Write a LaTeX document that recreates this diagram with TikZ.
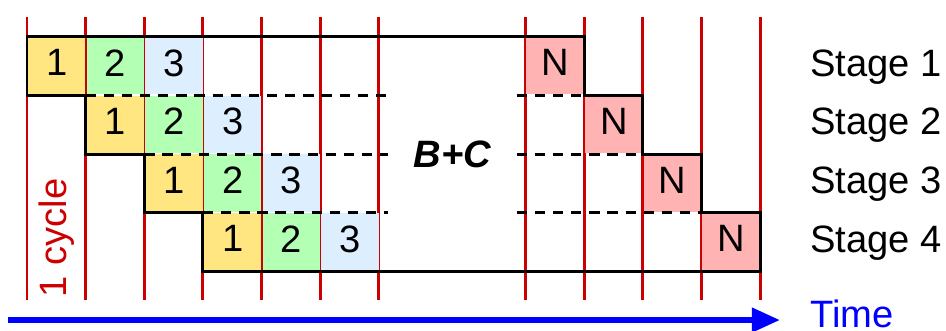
\documentclass[tikz,border=0pt]{standalone}
\usepackage{fontspec}
\setmainfont{Liberation Sans}
\usetikzlibrary{arrows.meta}
\definecolor{cycred}{RGB}{204,0,0}
\definecolor{opone}{RGB}{255,230,128}
\definecolor{optwo}{RGB}{179,255,179}
\definecolor{opthree}{RGB}{221,238,255}
\definecolor{oplast}{RGB}{255,179,179}
\definecolor{timeblue}{RGB}{0,0,255}

\begin{document}
\begin{tikzpicture}[
  every node/.style={font=\fontsize{18.5}{22}\selectfont},
  cell/.style={anchor=south west,minimum width=0.98cm,minimum height=0.98cm,inner sep=0pt,text depth=0.1cm},
  cycline/.style={draw=cycred,line width=1.4pt},
  stagebox/.style={draw=black,line width=1.4pt},
  sep/.style={draw=black,line width=1.4pt,dash pattern=on 5pt off 3.8pt},
  timeline/.style={-{Triangle[length=0.48cm,width=0.4cm]},draw=timeblue,line width=2.9pt}
]
\useasboundingbox (-0.46,-1.016) rectangle (15.67,4.627);
% clock ticks
\foreach \x in {0,1,2,3,4,5,6,8.5,9.5,10.5,11.5,12.5}
  \draw[cycline] (\x,-0.49) -- (\x,4.33);
% operations in each stage
\foreach \r in {1,...,4} {
  \pgfmathsetmacro{\y}{4-\r}
  \pgfmathsetmacro{\xa}{\r-1}
  \node[cell,fill=opone] (c\r a) at (\xa+0.01,\y+0.01) {1};
  \node[cell,fill=optwo] (c\r b) at (\xa+1.01,\y+0.01) {2};
  \node[cell,fill=opthree] (c\r c) at (\xa+2.01,\y+0.01) {3};
  \node[cell,fill=oplast] (n\r) at (7.51+\r,\y+0.01) {N};
}
% stage boundaries
\foreach \r/\a/\b in {3/1/9.5,2/2/10.5,1/3/11.5} {
  \draw[sep] (\a,\r) -- (6.15,\r);
  \draw[sep] (8.35,\r) -- (\b,\r);
}
\draw[stagebox] (0,4) -- (0,3) -- (1,3) -- (1,2) -- (2,2) -- (2,1) -- (3,1) -- (3,0)
  -- (12.5,0) -- (12.5,1) -- (11.5,1) -- (11.5,2) -- (10.5,2) -- (10.5,3) -- (9.5,3) -- (9.5,4) -- cycle;
\node[font=\fontsize{18.5}{22}\selectfont\bfseries\itshape] (bc) at (7.25,2) {B+C};
\node[rotate=90,anchor=base west,inner sep=0pt,text=cycred] (cyc) at (0.68,-0.45) {1 cycle};
% stage names
\foreach \r in {1,...,4}
  \node[anchor=base west,inner sep=0pt] (st\r) at (13.35,4.33-\r) {Stage \r};
% time axis
\coordinate (t0) at (-0.32,-0.83);
\coordinate (t1) at (12.84,-0.83);
\draw[timeline] (t0) -- (t1);
\node[anchor=base west,inner sep=0pt,text=timeblue] (time) at (13.35,-0.95) {Time};
\end{tikzpicture}
\end{document}
